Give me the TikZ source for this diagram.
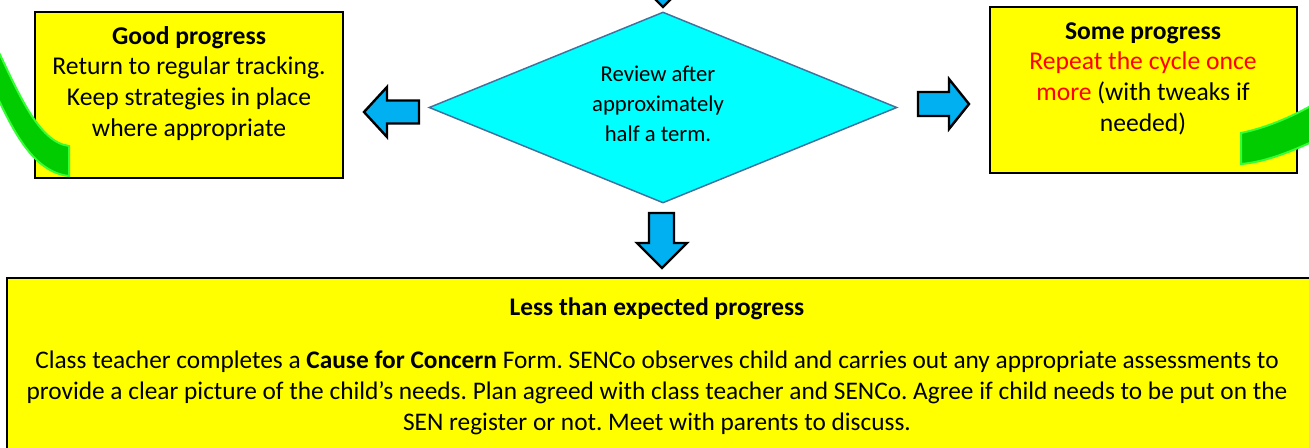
\documentclass[tikz,border=0pt]{standalone}
\usepackage{fontspec}
\setmainfont{Carlito}
\usetikzlibrary{shapes.geometric}
\frenchspacing

\definecolor{boxyellow}{HTML}{FFFF00}
\definecolor{reviewcyan}{HTML}{00FFFF}
\definecolor{reviewedge}{HTML}{41719C}
\definecolor{arrowblue}{HTML}{00B0F0}
\definecolor{cyclegreen}{HTML}{00CC00}
\definecolor{cycleedge}{HTML}{33FF33}

\tikzset{
  box/.style={draw=black, line width=1.1pt, fill=boxyellow, inner sep=0pt},
  boxtext/.style={align=center, inner sep=0pt, anchor=base, font=\fontsize{19.2}{23}\selectfont},
  blockarrow/.style={fill=arrowblue, draw=black, line width=1.8pt, line join=miter},
  cyclearrow/.style={fill=cyclegreen, draw=cycleedge, line width=1.5pt},
}

\begin{document}
\begin{tikzpicture}[x=0.75pt, y=-0.75pt]
\useasboundingbox (0,0) rectangle (1309,447);
\clip (0,0) rectangle (1309,447);

%boxes
\node[box, minimum width=231pt, minimum height=124.5pt] (good) at (189,95) {};
\node[box, minimum width=230.25pt, minimum height=124.5pt] (some) at (1143.5,90) {};
\node[diamond, draw=reviewedge, line width=1.1pt, fill=reviewcyan, inner sep=0pt,
      minimum width=351pt, minimum height=143.25pt] (review) at (663,107.5) {};
\node[box, minimum width=981pt, minimum height=136.5pt] (less) at (661,369) {};

%texts (base = last line)
\node[boxtext] (goodtext) at (189,136) {\textbf{Good progress}\\ Return to regular tracking.\\ Keep strategies in place\\ where appropriate};
\node[boxtext] (sometext) at (1143,131) {\textbf{Some progress}\\ \textcolor{red}{Repeat the cycle once}\\ \textcolor{red}{more} (with tweaks if\\ needed)};
\node[boxtext, font=\fontsize{17}{22.5}\selectfont] (reviewtext) at (658,141) {Review after\\ approximately\\ half a term.};
\node[boxtext, font=\fontsize{19}{23.2}\selectfont] (lesstext) at (657,430) {\textbf{Less than expected progress}\\[16.5pt]
  Class teacher completes a \textbf{Cause for Concern} Form. SENCo observes child and carries out any appropriate assessments to\\
  provide a clear picture of the child’s needs. Plan agreed with class teacher and SENCo. Agree if child needs to be put on the\\
  SEN register or not. Meet with parents to discuss.};

%block arrows
\filldraw[blockarrow] (663,7) -- (688,-18) -- (675.5,-18) -- (675.5,-50) -- (650.5,-50) -- (650.5,-18) -- (638,-18) -- cycle; %top
\filldraw[blockarrow] (364,112) -- (387,87) -- (387,100.5) -- (419,100.5) -- (419,123.5) -- (387,123.5) -- (387,137) -- cycle; %left
\filldraw[blockarrow] (969,104) -- (949,79) -- (949,92) -- (918,92) -- (918,116) -- (949,116) -- (949,129) -- cycle; %right
\filldraw[blockarrow] (662,268) -- (687,243) -- (674,243) -- (674,213) -- (649,213) -- (649,243) -- (637,243) -- cycle; %down

%cycle arrows
\filldraw[cyclearrow] (-6,42) .. controls (18,92) and (38,142) .. (69,146) -- (69,176) .. controls (32,172) and (12,128) .. (-6,90) -- cycle;
\filldraw[cyclearrow] (1241,133) .. controls (1265,128) and (1290,118) .. (1316,103) -- (1316,140) .. controls (1290,152) and (1265,162) .. (1241,164) -- cycle;

\end{tikzpicture}
\end{document}
